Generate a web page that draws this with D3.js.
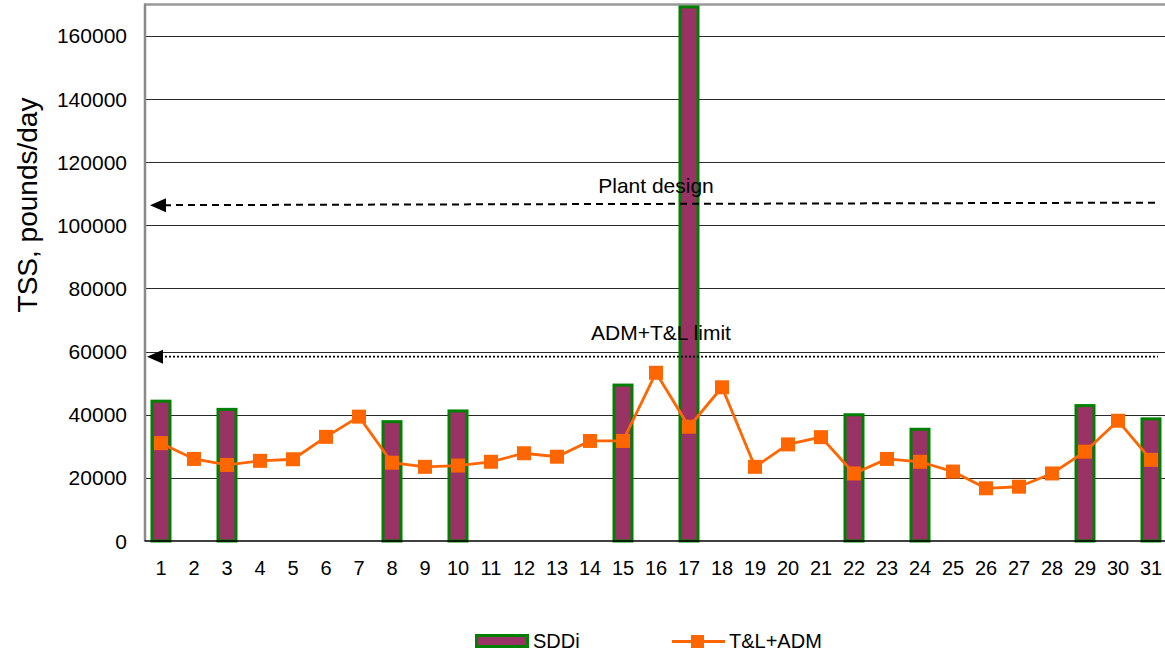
<!DOCTYPE html>
<html>
<head>
<meta charset="utf-8">
<script src="https://cdn.jsdelivr.net/npm/d3@7"></script>
<style>
  html, body { margin: 0; padding: 0; background: #fff; }
  svg { display: block; font-family: "Liberation Sans", Arial, sans-serif; }
</style>
</head>
<body>
<svg id="chart" width="1165" height="656"></svg>
<script>
// Days of the month
const days = d3.range(1, 32);

// SDDi loads (pounds/day); only some days have a bar
const sddi = [
  {day: 1, value: 44300}, {day: 3, value: 41700}, {day: 8, value: 37800},
  {day: 10, value: 41200}, {day: 15, value: 49400}, {day: 17, value: 169200},
  {day: 22, value: 40000}, {day: 24, value: 35400}, {day: 29, value: 42900},
  {day: 31, value: 38700}
];

// T&L+ADM loads (pounds/day), one per day
const tlAdm = [
  31000, 26000, 24100, 25400, 25900, 33000, 39400, 24800, 23500, 23900,
  25100, 27800, 26700, 31700, 31700, 53300, 36200, 48700, 23500, 30600,
  32900, 21400, 26000, 25100, 22000, 16700, 17200, 21400, 28300, 38100,
  25700
];

// Reference levels
const plantDesign = [106400, 107200];   // start / end of dashed line
const admLimit = [58400, 58400];        // start / end of dotted line

const yTicks = [0, 20000, 40000, 60000, 80000, 100000, 120000, 140000, 160000];

const svg = d3.select("#chart");
const plotLeft = 144.5, plotRight = 1167.5, plotTop = 4.4, plotBottom = 541;

const x = d3.scaleBand().domain(days).range([plotLeft, plotRight]).paddingInner(0).paddingOuter(0);
const y = d3.scaleLinear().domain([0, 170000]).range([plotBottom, plotTop]);
const cx = d => x(d) + x.bandwidth() / 2;

// Horizontal gridlines
svg.append("g").selectAll("line")
  .data(yTicks.filter(t => t > 0))
  .join("line")
  .attr("x1", plotLeft).attr("x2", 1165)
  .attr("y1", d => Math.round(y(d)) + 0.5).attr("y2", d => Math.round(y(d)) + 0.5)
  .attr("stroke", "#2a2a2a").attr("stroke-width", 1.2);

// Top frame line
svg.append("line")
  .attr("x1", plotLeft).attr("x2", 1165)
  .attr("y1", y(170000)).attr("y2", y(170000))
  .attr("stroke", "#999").attr("stroke-width", 2.5);

// Y axis tick labels
svg.append("g").selectAll("text")
  .data(yTicks)
  .join("text")
  .attr("x", 127).attr("y", d => y(d) + 7.5)
  .attr("text-anchor", "end")
  .attr("font-size", 21)
  .attr("fill", "#000")
  .text(d => d);

// Y axis title
svg.append("text")
  .attr("transform", "translate(37,205) rotate(-90)")
  .attr("text-anchor", "middle")
  .attr("font-size", 28)
  .attr("fill", "#000")
  .text("TSS, pounds/day");

// X axis tick labels
svg.append("g").selectAll("text")
  .data(days)
  .join("text")
  .attr("x", d => cx(d)).attr("y", 575)
  .attr("text-anchor", "middle")
  .attr("font-size", 20)
  .attr("fill", "#000")
  .text(d => d);

// SDDi bars
const barW = 18;
svg.append("g").selectAll("rect")
  .data(sddi)
  .join("rect")
  .attr("x", d => cx(d.day) - barW / 2)
  .attr("y", d => y(d.value))
  .attr("width", barW)
  .attr("height", d => y(0) - y(d.value))
  .attr("fill", "#993366")
  .attr("stroke", "#008000")
  .attr("stroke-width", 3);

// Left axis line
svg.append("line")
  .attr("x1", plotLeft + 0.5).attr("x2", plotLeft + 0.5)
  .attr("y1", y(170000) - 1).attr("y2", plotBottom)
  .attr("stroke", "#8a8a8a").attr("stroke-width", 2.5);

// Zero baseline
svg.append("line")
  .attr("x1", plotLeft).attr("x2", 1165)
  .attr("y1", y(0)).attr("y2", y(0))
  .attr("stroke", "#000").attr("stroke-width", 1.5);

// Reference lines with left-pointing arrowheads
function refLine(vals, endX, dash, width, headX) {
  const y0 = y(vals[0]), y1 = y(vals[1]);
  svg.append("line")
    .attr("x1", headX + 14).attr("x2", endX)
    .attr("y1", y0).attr("y2", y1)
    .attr("stroke", "#000").attr("stroke-width", width)
    .attr("stroke-dasharray", dash);
  svg.append("path")
    .attr("d", `M${headX},${y0} L${headX + 16},${y0 - 7} L${headX + 16},${y0 + 7} Z`)
    .attr("fill", "#000");
}
refLine(plantDesign, 1160, "7,5", 2, 150);
refLine(admLimit, 1158, "2,2", 1.6, 147);

// Reference labels
svg.append("text")
  .attr("x", 656).attr("y", 193)
  .attr("text-anchor", "middle").attr("font-size", 21).attr("fill", "#000")
  .text("Plant design");
svg.append("text")
  .attr("x", 661).attr("y", 340)
  .attr("text-anchor", "middle").attr("font-size", 21).attr("fill", "#000")
  .text("ADM+T&L limit");

// T&L+ADM line with square markers
const pts = days.map((d, i) => ({day: d, value: tlAdm[i]}));
svg.append("path")
  .datum(pts)
  .attr("fill", "none")
  .attr("stroke", "#ff6600")
  .attr("stroke-width", 2.8)
  .attr("d", d3.line().x(d => cx(d.day)).y(d => y(d.value)));
const mk = 14;
svg.append("g").selectAll("rect")
  .data(pts)
  .join("rect")
  .attr("x", d => cx(d.day) - mk / 2)
  .attr("y", d => y(d.value) - mk / 2)
  .attr("width", mk).attr("height", mk)
  .attr("fill", "#ff6600");

// Legend
const lg = svg.append("g");
lg.append("rect")
  .attr("x", 476.5).attr("y", 635.5).attr("width", 51).attr("height", 11)
  .attr("fill", "#993366").attr("stroke", "#008000").attr("stroke-width", 3);
lg.append("text")
  .attr("x", 533).attr("y", 648).attr("font-size", 20).attr("fill", "#000")
  .text("SDDi");
lg.append("line")
  .attr("x1", 672).attr("x2", 725).attr("y1", 641.5).attr("y2", 641.5)
  .attr("stroke", "#ff6600").attr("stroke-width", 2.8);
lg.append("rect")
  .attr("x", 691).attr("y", 635).attr("width", 13).attr("height", 13)
  .attr("fill", "#ff6600");
lg.append("text")
  .attr("x", 729).attr("y", 648).attr("font-size", 20).attr("fill", "#000")
  .text("T&L+ADM");
</script>
</body>
</html>
